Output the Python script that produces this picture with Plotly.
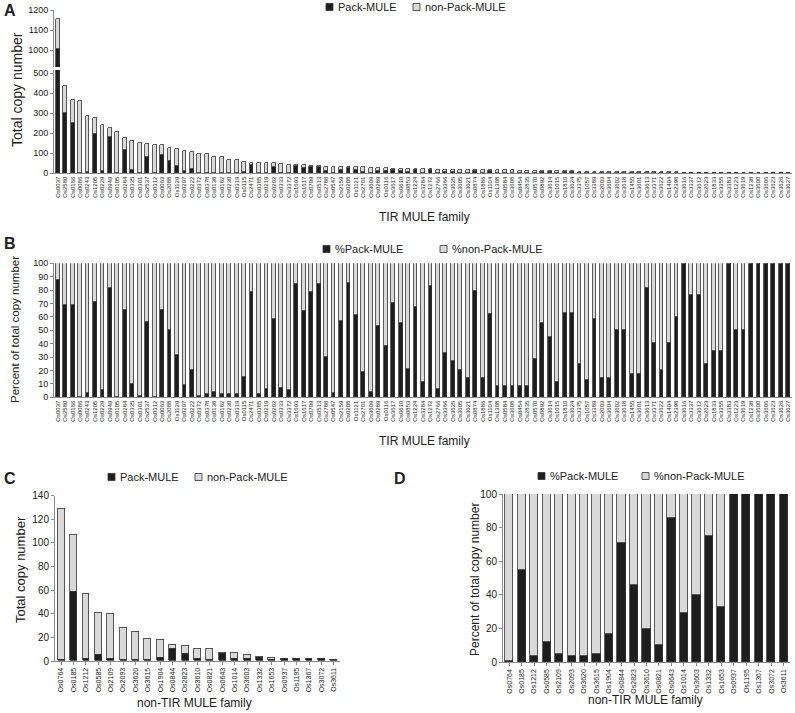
import plotly.graph_objects as go

# TIR MULE families (panels A and B)
tir_families = [
    'Os0037', 'Os2580', 'Os0166', 'Os0086', 'Os0243', 'Os1205', 'Os0229', 'Os0949', 'Os0105', 'Os0284',
    'Os0335', 'Os0301', 'Os2537', 'Os0312', 'Os0063', 'Os2088', 'Os1129', 'Os0297', 'Os0222', 'Os0372',
    'Os0378', 'Os0138', 'Os0182', 'Os0230', 'Os0319', 'Os0115', 'Os2471', 'Os0385', 'Os0219', 'Os0202',
    'Os0333', 'Os3372', 'Os1693', 'Os1617', 'Os0709', 'Os0513', 'Os2788', 'Os0547', 'Os2159', 'Os0208',
    'Os1121', 'Os2701', 'Os3609', 'Os0289', 'Os0116', 'Os3617', 'Os0610', 'Os0853', 'Os1224', 'Os3284',
    'Os1272', 'Os2766', 'Os3366', 'Os3625', 'Os3605', 'Os3621', 'Os0874', 'Os1886', 'Os1104', 'Os1308',
    'Os0584', 'Os3608', 'Os0454', 'Os2835', 'Os0570', 'Os0892', 'Os3614', 'Os1015', 'Os1810', 'Os3624',
    'Os3375', 'Os1057', 'Os3389', 'Os2003', 'Os3604', 'Os3602', 'Os3618', 'Os1455', 'Os3601', 'Os3613',
    'Os3371', 'Os3622', 'Os1404', 'Os2398', 'Os3616', 'Os3337', 'Os3612', 'Os2623', 'Os1833', 'Os3355',
    'Os3383', 'Os1223', 'Os3619', 'Os1238', 'Os3600', 'Os3606', 'Os3623', 'Os3626', 'Os3627',
]

# panel A: copy numbers
tir_pack = [
    1005, 300, 252, 1, 8, 195, 12, 182, 0, 114,
    16, 2, 81, 0, 91, 62, 37, 10, 21, 1,
    2, 3, 2, 1, 1, 9, 41, 1, 3, 29,
    3, 2, 35, 26, 29, 29, 10, 1, 18, 27,
    18, 6, 1, 13, 10, 16, 13, 5, 15, 2,
    17, 1, 6, 5, 4, 2, 13, 2, 10, 1,
    1, 1, 1, 1, 4, 7, 5, 1, 7, 7,
    2, 1, 4, 1, 1, 3, 3, 1, 1, 4,
    2, 1, 2, 3, 4, 3, 3, 1, 1, 1,
    3, 1, 1, 2, 2, 2, 2, 2, 2,
]
tir_nonpack = [
    150, 135, 113, 359, 277, 83, 231, 43, 205, 61,
    146, 148, 64, 143, 49, 62, 83, 102, 86, 96,
    93, 80, 80, 64, 63, 48, 12, 51, 48, 21,
    44, 41, 7, 14, 8, 6, 23, 32, 14, 5,
    12, 24, 26, 12, 15, 7, 10, 17, 7, 19,
    3, 18, 12, 13, 14, 15, 4, 14, 6, 15,
    14, 14, 13, 13, 10, 6, 7, 11, 4, 4,
    7, 8, 4, 7, 6, 4, 3, 5, 5, 1,
    3, 4, 3, 2, 0, 1, 1, 3, 2, 2,
    0, 1, 1, 0, 0, 0, 0, 0, 0,
]

# panel B: percent of total copy number
tir_pct_pack = [
    87, 69, 69, 0, 3, 71, 5, 81, 0, 65,
    10, 1, 56, 0, 65, 50, 31, 9, 20, 1,
    2, 4, 2, 2, 2, 15, 78, 2, 6, 58,
    7, 5, 84, 64, 78, 84, 30, 3, 57, 85,
    61, 19, 4, 53, 38, 70, 55, 21, 67, 11,
    83, 6, 33, 27, 20, 14, 79, 14, 62, 8,
    8, 8, 8, 8, 28, 55, 45, 11, 63, 63,
    25, 13, 58, 14, 14, 50, 50, 17, 17, 81,
    40, 20, 40, 60, 100, 76, 76, 25, 34, 34,
    100, 50, 50, 100, 100, 100, 100, 100, 100,
]
tir_pct_nonpack = [
    13, 31, 31, 100, 97, 29, 95, 19, 100, 35,
    90, 99, 44, 100, 35, 50, 69, 91, 80, 99,
    98, 96, 98, 98, 98, 85, 22, 98, 94, 42,
    93, 95, 16, 36, 22, 16, 70, 97, 43, 15,
    39, 81, 96, 47, 62, 30, 45, 79, 33, 89,
    17, 94, 67, 73, 80, 86, 21, 86, 38, 92,
    92, 92, 92, 92, 72, 45, 55, 89, 37, 37,
    75, 87, 42, 86, 86, 50, 50, 83, 83, 19,
    60, 80, 60, 40, 0, 24, 24, 75, 66, 66,
    0, 50, 50, 0, 0, 0, 0, 0, 0,
]

# non-TIR MULE families (panels C and D)
nontir_families = [
    'Os0764', 'Os0185', 'Os1212', 'Os0585', 'Os2109', 'Os2093', 'Os3620', 'Os3615', 'Os1904', 'Os0844',
    'Os2823', 'Os3610', 'Os0821', 'Os0643', 'Os1014', 'Os3603', 'Os1332', 'Os1653', 'Os0937', 'Os1195',
    'Os1367', 'Os3072', 'Os3611',
]
nontir_pack = [1, 59, 2, 5, 2, 1, 1, 1, 3, 10, 6, 2, 1, 6, 2, 2, 3, 1, 2, 2, 2, 2, 1]
nontir_nonpack = [128, 48, 55, 36, 38, 27, 24, 18, 15, 4, 7, 8, 9, 1, 5, 3, 1, 2, 0, 0, 0, 0, 0]
nontir_pct_pack = [1, 55, 4, 12, 5, 4, 4, 5, 17, 71, 46, 20, 10, 86, 29, 40, 75, 33, 100, 100, 100, 100, 100]
nontir_pct_nonpack = [99, 45, 96, 88, 95, 96, 96, 95, 83, 29, 54, 80, 90, 14, 71, 60, 25, 67, 0, 0, 0, 0, 0]

BLACK = '#1e1e1e'
GRAY = '#d9d9d9'
EDGE = '#333333'
AXIS = '#8c8c8c'
FONT = 'Liberation Sans, Arial, sans-serif'
W, H = 795, 713


def bar(x, y, color, xa, ya, width):
    return go.Bar(x=x, y=y, xaxis=xa, yaxis=ya, width=width, showlegend=False,
                  marker=dict(color=color, line=dict(color=EDGE, width=0.8)))


fig = go.Figure()

# A: broken axis, same bars drawn on lower and upper y axes
for ya in ['y', 'y2']:
    fig.add_trace(bar(tir_families, tir_pack, BLACK, 'x', ya, 0.52))
    fig.add_trace(bar(tir_families, tir_nonpack, GRAY, 'x', ya, 0.52))

# B
fig.add_trace(bar(tir_families, tir_pct_pack, BLACK, 'x2', 'y3', 0.52))
fig.add_trace(bar(tir_families, tir_pct_nonpack, GRAY, 'x2', 'y3', 0.52))

# C
fig.add_trace(bar(nontir_families, nontir_pack, BLACK, 'x3', 'y4', 0.56))
fig.add_trace(bar(nontir_families, nontir_nonpack, GRAY, 'x3', 'y4', 0.56))

# D
fig.add_trace(bar(nontir_families, nontir_pct_pack, BLACK, 'x4', 'y5', 0.66))
fig.add_trace(bar(nontir_families, nontir_pct_nonpack, GRAY, 'x4', 'y5', 0.66))


# positions below are given in pixels of the 795x713 picture
def px_x(v):
    return v / W


def px_y(v):
    return 1 - v / H


xcommon = dict(type='category', tickangle=-90, showline=True, linecolor=AXIS, linewidth=1,
               ticks='', showgrid=False, zeroline=False, automargin=False,
               tickfont=dict(size=6, color='#222'))
ycommon = dict(showline=True, linecolor=AXIS, linewidth=1, ticks='outside', ticklen=3,
               tickcolor=AXIS, showgrid=False, zeroline=False, automargin=False,
               tickfont=dict(size=9, color='#222'))

fig.update_layout(
    width=W, height=H, margin=dict(l=0, r=0, t=0, b=0, pad=0),
    paper_bgcolor='white', plot_bgcolor='white', barmode='stack', bargap=0,
    font=dict(family=FONT, color='#222'),
    xaxis=dict(xcommon, domain=[px_x(54), px_x(792)], anchor='y', range=[-0.5, 98.5]),
    yaxis=dict(ycommon, domain=[px_y(173.3), px_y(70)], anchor='x', range=[0, 516],
               tickvals=[0, 100, 200, 300, 400, 500]),
    yaxis2=dict(ycommon, domain=[px_y(67), px_y(10)], anchor='x', range=[915, 1200],
                tickvals=[1000, 1100, 1200]),
    xaxis2=dict(xcommon, domain=[px_x(54), px_x(792)], anchor='y3', range=[-0.5, 98.5]),
    yaxis3=dict(ycommon, domain=[px_y(397.3), px_y(263.3)], anchor='x2', range=[0, 100], dtick=10),
    xaxis3=dict(xcommon, domain=[px_x(55), px_x(340)], anchor='y4', range=[-0.5, 22.5],
                ticks='outside', ticklen=3, tickcolor=AXIS, tickfont=dict(size=7, color='#222')),
    yaxis4=dict(ycommon, domain=[px_y(661), px_y(495.7)], anchor='x3', range=[0, 140], dtick=20,
                tickfont=dict(size=10, color='#222')),
    xaxis4=dict(xcommon, domain=[px_x(503), px_x(790)], anchor='y5', range=[-0.5, 22.5],
                ticks='outside', ticklen=3, tickcolor=AXIS, tickfont=dict(size=7, color='#222')),
    yaxis5=dict(ycommon, domain=[px_y(662.3), px_y(494)], anchor='x4', range=[0, 100], dtick=20,
                tickfont=dict(size=10, color='#222')),
)

annotations = []
shapes = []


def text(x, y, s, size, angle=0, bold=False, xanchor='center'):
    annotations.append(dict(x=px_x(x), y=px_y(y), xref='paper', yref='paper', text=f'<b>{s}</b>' if bold else s,
                            showarrow=False, textangle=angle, xanchor=xanchor, yanchor='middle',
                            font=dict(size=size, family=FONT, color='#222')))


def legend_item(x, y, label, color, size=11):
    shapes.append(dict(type='rect', xref='paper', yref='paper', x0=px_x(x), x1=px_x(x + 7),
                       y0=px_y(y + 3.5), y1=px_y(y - 3.5), fillcolor=color, line=dict(color=EDGE, width=0.8)))
    text(x + 10, y, label, size, xanchor='left')


# panel letters
text(10, 10, 'A', 16, bold=True)
text(10, 243, 'B', 16, bold=True)
text(10, 478, 'C', 16, bold=True)
text(400, 478, 'D', 16, bold=True)

# legends
legend_item(326, 7, 'Pack-MULE', BLACK)
legend_item(413, 7, 'non-Pack-MULE', GRAY)
legend_item(323, 249, '%Pack-MULE', BLACK)
legend_item(440, 249, '%non-Pack-MULE', GRAY)
legend_item(108, 477, 'Pack-MULE', BLACK)
legend_item(195, 477, 'non-Pack-MULE', GRAY)
legend_item(538, 476, '%Pack-MULE', BLACK)
legend_item(642, 476, '%non-Pack-MULE', GRAY)

# axis titles
text(17, 90, 'Total copy number', 14, angle=-90)
text(424, 217, 'TIR MULE family', 12)
text(15, 330, 'Percent of total copy number', 11.5, angle=-90)
text(424, 441, 'TIR MULE family', 12)
text(20, 570, 'Total copy number', 13, angle=-90)
text(194, 703, 'non-TIR MULE family', 12)
text(475, 580, 'Percent of total copy number', 12, angle=-90)
text(645, 700, 'non-TIR MULE family', 12)

fig.update_layout(annotations=annotations, shapes=shapes)

# drop the browser's default 8px body margin so the figure starts at the page corner
fig.write_html('out.html', config={'displayModeBar': False},
               post_script="document.body.style.margin = '0px';")
